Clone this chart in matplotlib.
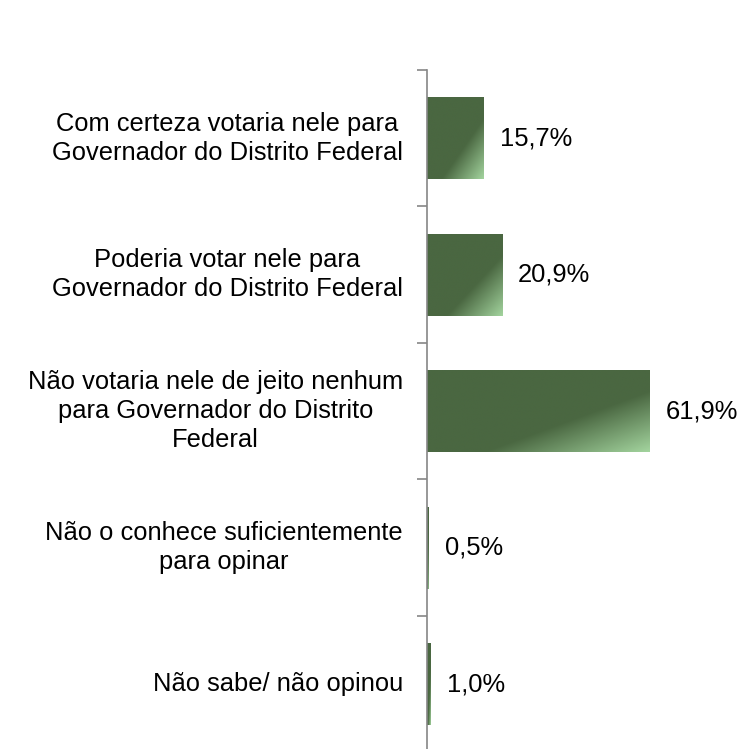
import numpy as np
import matplotlib
matplotlib.use("Agg")
import matplotlib.pyplot as plt
from matplotlib.colors import LinearSegmentedColormap
from matplotlib.transforms import blended_transform_factory

categories = [
    "Com certeza votaria nele para\nGovernador do Distrito Federal",
    "Poderia votar nele para\nGovernador do Distrito Federal",
    "Não votaria nele de jeito nenhum\npara Governador do Distrito\nFederal",
    "Não o conhece suficientemente\npara opinar",
    "Não sabe/ não opinou",
]
values = [15.7, 20.9, 61.9, 0.5, 1.0]
value_labels = ["15,7%", "20,9%", "61,9%", "0,5%", "1,0%"]

plt.rcParams.update({"font.family": ["Liberation Sans", "DejaVu Sans"], "font.size": 18.4})

DARK = "#4a6741"
LIGHT = "#a3d49e"
cmap = LinearSegmentedColormap.from_list("bar", [(0, DARK), (0.63, DARK), (1, LIGHT)])

fig = plt.figure(figsize=(7.45, 7.49), dpi=100)
W, H = 745, 749
x0, y_top, y_bot = 427, 70, 752.5
ax = fig.add_axes([x0 / W, (H - y_bot) / H, (W - x0) / W, (y_bot - y_top) / H])

n = len(values)
pos = np.arange(n)
px_per_pct = 3.6
ax.set_xlim(0, (W - x0) / px_per_pct)
ax.set_ylim(n - 0.5, -0.5)

bars = ax.barh(pos, values, height=0.6, color="none", edgecolor="none")

# diagonal gradient, light towards the bottom right corner
u = np.linspace(0, 1, 200)
gu, gw = np.meshgrid(u, u)
grad = (gu + gw) / 2
for b in bars:
    x, y = b.get_x(), b.get_y()
    w, h = b.get_width(), b.get_height()
    im = ax.imshow(grad, cmap=cmap, vmin=0, vmax=1, aspect="auto",
                   extent=[x, x + w, y + h, y], origin="upper",
                   interpolation="bilinear", zorder=2)
    im.set_clip_path(b)

for p, v, lab in zip(pos, values, value_labels):
    ax.text(v + 16 / px_per_pct, p, lab, va="center", ha="left", color="black")

tr = blended_transform_factory(fig.transFigure, ax.transData)
for p, cat in zip(pos, categories):
    ax.text(403 / W, p, cat, transform=tr, ha="right", va="center",
            multialignment="center", linespacing=1.25)

for s in ["top", "right", "bottom"]:
    ax.spines[s].set_visible(False)
ax.spines["left"].set_color("#868686")
ax.spines["left"].set_linewidth(1.2)
ax.set_yticks(np.arange(n + 1) - 0.5)
ax.set_yticklabels([])
ax.tick_params(axis="y", length=7, width=1.2, color="#868686", direction="out")
ax.set_xticks([])
ax.set_facecolor("none")

fig.savefig("out.png", dpi=100)
